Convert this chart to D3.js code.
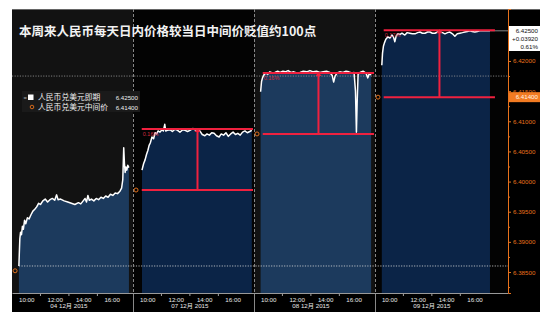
<!DOCTYPE html>
<html>
<head>
<meta charset="utf-8">
<script src="https://cdn.jsdelivr.net/npm/d3@7"></script>
<style>
  body { margin: 0; background: #fff; }
  svg { display: block; }
</style>
</head>
<body>
<script>
// categories / labels
const dayLabels = ["04 12月 2015", "07 12月 2015", "08 12月 2015", "09 12月 2015"];
const hourTicks = [10, 12, 14, 16];
const yTicks = [6.385, 6.39, 6.395, 6.40, 6.405, 6.41, 6.415, 6.42, 6.425];

// spot CNY per day  [time, value]
const spotDay1 = [["09:29",6.3860],["09:33",6.3905],["09:36",6.3916],["09:40",6.3912],["09:44",6.3926],["09:48",6.3921],["09:53",6.3936],["09:58",6.3930],["10:05",6.3940],["10:12",6.3938],["10:20",6.3945],["10:28",6.3951],["10:36",6.3954],["10:44",6.3958],["10:52",6.3964],["11:00",6.3962],["11:10",6.3968],["11:20",6.3971],["11:30",6.3966],["11:40",6.3970],["11:50",6.3972],["12:00",6.3969],["12:08",6.3978],["12:14",6.3970],["12:25",6.3971],["12:40",6.3968],["12:55",6.3966],["13:10",6.3964],["13:25",6.3962],["13:40",6.3965],["13:50",6.3963],["14:00",6.3968],["14:08",6.3972],["14:14",6.3966],["14:20",6.3977],["14:26",6.3969],["14:35",6.3971],["14:45",6.3968],["14:55",6.3972],["15:05",6.3970],["15:15",6.3974],["15:25",6.3972],["15:35",6.3976],["15:45",6.3974],["15:55",6.3979],["16:05",6.3977],["16:15",6.3981],["16:25",6.3980],["16:35",6.3984],["16:42",6.3989],["16:47",6.4003],["16:51",6.4056],["16:54",6.4030],["16:57",6.4015],["17:00",6.4024],["17:04",6.4019],["17:08",6.4027],["17:13",6.4023]];
const spotDay2 = [["09:38",6.4019],["09:45",6.4030],["09:51",6.4036],["09:57",6.4045],["10:03",6.4052],["10:08",6.4060],["10:13",6.4064],["10:20",6.4074],["10:27",6.4071],["10:33",6.4081],["10:40",6.4079],["10:46",6.4084],["10:54",6.4082],["11:02",6.4086],["11:08",6.4084],["11:14",6.4095],["11:18",6.4084],["11:25",6.4085],["11:36",6.4086],["11:46",6.4083],["11:57",6.4087],["12:08",6.4085],["12:18",6.4082],["12:30",6.4086],["12:40",6.4085],["12:50",6.4083],["13:00",6.4085],["13:12",6.4088],["13:22",6.4086],["13:32",6.4083],["13:42",6.4084],["13:52",6.4078],["14:03",6.4076],["14:12",6.4079],["14:22",6.4077],["14:32",6.4081],["14:42",6.4080],["14:52",6.4076],["15:03",6.4074],["15:12",6.4079],["15:22",6.4077],["15:32",6.4081],["15:42",6.4075],["15:52",6.4079],["16:02",6.4082],["16:12",6.4078],["16:22",6.4080],["16:32",6.4077],["16:42",6.4082],["16:52",6.4084],["17:02",6.4081],["17:12",6.4083],["17:21",6.4085]];
const spotDay3 = [["09:28",6.4149],["09:32",6.4166],["09:36",6.4172],["09:42",6.4177],["09:50",6.4180],["09:58",6.4178],["10:07",6.4182],["10:18",6.4180],["10:28",6.4181],["10:40",6.4183],["10:50",6.4181],["11:02",6.4183],["11:12",6.4182],["11:24",6.4184],["11:36",6.4181],["11:48",6.4182],["12:00",6.4180],["12:14",6.4181],["12:28",6.4183],["12:42",6.4182],["12:56",6.4184],["13:10",6.4182],["13:24",6.4183],["13:38",6.4181],["13:52",6.4182],["14:06",6.4183],["14:20",6.4181],["14:30",6.4176],["14:36",6.4165],["14:42",6.4175],["14:50",6.4180],["15:02",6.4182],["15:15",6.4181],["15:28",6.4183],["15:40",6.4182],["15:52",6.4180],["16:02",6.4181],["16:08",6.4150],["16:12",6.4082],["16:15",6.4130],["16:19",6.4178],["16:27",6.4181],["16:40",6.4183],["16:52",6.4180],["17:00",6.4172],["17:06",6.4179],["17:14",6.4177]];
const spotDay4 = [["09:29",6.4193],["09:32",6.4213],["09:36",6.4225],["09:40",6.4230],["09:46",6.4236],["09:55",6.4240],["10:03",6.4238],["10:12",6.4243],["10:18",6.4240],["10:24",6.4232],["10:30",6.4242],["10:37",6.4245],["10:46",6.4244],["10:54",6.4246],["11:06",6.4243],["11:16",6.4247],["11:27",6.4246],["11:38",6.4245],["11:49",6.4245],["12:00",6.4247],["12:10",6.4248],["12:20",6.4246],["12:31",6.4246],["12:42",6.4248],["12:52",6.4248],["13:02",6.4246],["13:13",6.4246],["13:24",6.4248],["13:34",6.4248],["13:45",6.4247],["13:55",6.4245],["14:06",6.4247],["14:16",6.4248],["14:27",6.4245],["14:37",6.4241],["14:47",6.4245],["14:58",6.4246],["15:09",6.4247],["15:19",6.4248],["15:30",6.4249],["15:40",6.4250],["15:50",6.4249],["16:01",6.4248],["16:12",6.4249],["16:22",6.4250],["16:33",6.4250],["16:44",6.4250],["16:55",6.4250],["17:05",6.4250]];
const spotDays = [spotDay1, spotDay2, spotDay3, spotDay4];

// central parity fixing and intraday high
const fixing = [6.3852, 6.3986, 6.4079, 6.4140];
const dayHigh = [null, 6.4087, 6.4180, 6.4251];
const deprLabels = [null, "0.16%", "0.16%", "0.17%"];
const refLines = [6.3860, 6.4175];

const W = 554, H = 317;
const pLeft = 12, pRight = 508, pTop = 9, pBottom = 293;
const dayHours = 8.5; // 09:00 - 17:30 per session

const svg = d3.select("body").append("svg")
  .attr("width", W).attr("height", H);

// hours since first session open
function toS(day, t) {
  const [h, m] = t.split(":").map(Number);
  return day * dayHours + (h + m / 60 - 9);
}

const x = d3.scaleLinear().domain([0, 34.85]).range([pLeft, pRight]);
const y = d3.scaleLinear().domain([6.38152, 6.42862]).range([pBottom, pTop]);

// panel
svg.append("rect").attr("x", pLeft).attr("y", pTop).attr("width", 528).attr("height", 303).attr("fill", "#000");
svg.append("line").attr("x1", pLeft).attr("x2", 540).attr("y1", pTop + 0.5).attr("y2", pTop + 0.5).attr("stroke", "#666");

// alternate day bands
dayLabels.forEach((d, i) => {
  svg.append("rect")
    .attr("x", x(i * dayHours))
    .attr("y", pTop + 1)
    .attr("width", (i == 3 ? pRight : x((i + 1) * dayHours)) - x(i * dayHours))
    .attr("height", pBottom - pTop - 1)
    .attr("fill", i % 2 == 0 ? "#121212" : "#030303");
});

// area + line per day
const fills = ["#1c3a5d", "#0b2447", "#1c3a5d", "#0b2447"];
const area = d3.area().x(d => x(d.s)).y0(pBottom).y1(d => y(d.v));
const line = d3.line().x(d => x(d.s)).y(d => y(d.v));

spotDays.forEach((arr, i) => {
  const pts = arr.map(p => ({ s: toS(i, p[0]), v: p[1] }));
  svg.append("path").datum(pts).attr("d", area).attr("fill", fills[i]);
});

// dotted reference lines
svg.append("line")
  .attr("x1", x(toS(0, "09:29"))).attr("x2", pRight)
  .attr("y1", y(refLines[0])).attr("y2", y(refLines[0]))
  .attr("stroke", "#ddd").attr("stroke-width", 0.8).attr("stroke-dasharray", "1.2,1.4");
svg.append("line")
  .attr("x1", pLeft).attr("x2", pRight)
  .attr("y1", y(refLines[1])).attr("y2", y(refLines[1]))
  .attr("stroke", "#999").attr("stroke-width", 0.8).attr("stroke-dasharray", "1.2,1.4");

spotDays.forEach((arr, i) => {
  const pts = arr.map(p => ({ s: toS(i, p[0]), v: p[1] }));
  svg.append("path").datum(pts).attr("d", line)
    .attr("fill", "none").attr("stroke", "#fff").attr("stroke-width", 1.5)
    .attr("stroke-linejoin", "round");
});

// last price line to axis
const lastS = toS(3, spotDay4[spotDay4.length - 1][0]);
svg.append("line")
  .attr("x1", x(lastS)).attr("x2", pRight)
  .attr("y1", y(6.425)).attr("y2", y(6.425))
  .attr("stroke", "#aaa").attr("stroke-width", 0.8);

// day separators
for (let i = 1; i < 4; i++) {
  const sx = Math.round(x(i * dayHours)) + 0.5;
  svg.append("line").attr("x1", sx).attr("x2", sx).attr("y1", pTop).attr("y2", pBottom)
    .attr("stroke", "#888").attr("stroke-dasharray", "3,2");
  svg.append("line").attr("x1", sx).attr("x2", sx).attr("y1", pBottom).attr("y2", 312)
    .attr("stroke", "#888");
}

// red depreciation brackets
const red = "#f0213f";
fixing.forEach((f, i) => {
  if (dayHigh[i] == null) return;
  const x1 = x(toS(i, "09:37")), x2 = x(toS(i, "17:26")), xm = x(toS(i, "13:32"));
  const g = svg.append("g").attr("stroke", red).attr("stroke-width", 2);
  g.append("line").attr("x1", x1).attr("x2", x2).attr("y1", y(dayHigh[i])).attr("y2", y(dayHigh[i]));
  g.append("line").attr("x1", x1).attr("x2", x2).attr("y1", y(f)).attr("y2", y(f));
  g.append("line").attr("x1", xm).attr("x2", xm).attr("y1", y(dayHigh[i])).attr("y2", y(f));
  svg.append("path")
    .attr("d", `M${xm - 3},${y(dayHigh[i]) + 3}L${xm},${y(dayHigh[i]) - 1}L${xm + 3},${y(dayHigh[i]) + 3}Z`)
    .attr("fill", red);
  svg.append("text").attr("x", x1 + 1).attr("y", y(dayHigh[i]) + 7)
    .attr("fill", "#d02a40").attr("font-size", 5.5).attr("font-family", "Liberation Sans, Arial")
    .text(deprLabels[i]);
});

// fixing circles
fixing.forEach((f, i) => {
  svg.append("circle").attr("cx", x(toS(i, "09:13"))).attr("cy", y(f)).attr("r", 2)
    .attr("fill", "none").attr("stroke", "#e0701c").attr("stroke-width", 1);
});

// x axis
const xTickVals = [];
dayLabels.forEach((d, i) => hourTicks.forEach(h => { xTickVals.push(i * dayHours + h - 9); }));
const xAxis = svg.append("g").attr("transform", `translate(0,${pBottom})`)
  .call(d3.axisBottom(x).tickValues(xTickVals).tickSize(0).tickPadding(5)
    .tickFormat(s => { const h = Math.round(s % dayHours + 9); return h + ":00"; }));
xAxis.select(".domain").attr("stroke", "#999");
xAxis.selectAll("text").attr("fill", "#e8e8e8").attr("font-size", 6.2).attr("font-family", "Liberation Sans, Arial");

// odd-hour ticks
const oddTicks = [];
dayLabels.forEach((d, i) => [11, 13, 15].forEach(h => oddTicks.push(i * dayHours + h - 9)));
svg.selectAll(".oddtick").data(oddTicks).enter().append("line")
  .attr("x1", d => x(d)).attr("x2", d => x(d)).attr("y1", pBottom + 1).attr("y2", pBottom + 3)
  .attr("stroke", "#ccc").attr("stroke-width", 0.8);

svg.selectAll(".daylab").data(dayLabels).enter().append("text")
  .attr("x", (d, i) => x(i * dayHours + 4)).attr("y", 308)
  .attr("text-anchor", "middle").attr("fill", "#e8e8e8")
  .attr("font-size", 6.2).attr("font-family", "Liberation Sans, Noto Sans CJK SC")
  .text(d => d);

// y axis (right, orange); top label is shown in the last-price box instead
const orange = "#e8721c";
const yAxis = svg.append("g").attr("transform", `translate(${pRight},0)`)
  .call(d3.axisRight(y).tickValues(yTicks).tickSize(3).tickPadding(2)
    .tickFormat(v => v >= 6.425 ? "" : d3.format(".5f")(v)));
yAxis.select(".domain").attr("stroke", orange);
yAxis.selectAll("line").attr("stroke", orange);
yAxis.selectAll("text").attr("fill", orange).attr("font-size", 6.2).attr("font-family", "Liberation Sans, Arial");
const minor = yTicks.slice(0, -1).map(v => v + 0.0025).concat([6.3825]);
svg.append("g").attr("transform", `translate(${pRight},0)`)
  .call(d3.axisRight(y).tickValues(minor).tickSize(2).tickFormat(""))
  .call(g => g.select(".domain").remove())
  .selectAll("line").attr("stroke", orange);

// last price box
svg.append("rect").attr("x", 509).attr("y", 26).attr("width", 31).attr("height", 25).attr("fill", "#fff");
["6.42500", "+0.03920", "0.61%"].forEach((t, i) => {
  svg.append("text").attr("x", 538).attr("y", 32.5 + i * 8)
    .attr("text-anchor", "end").attr("fill", "#111").attr("font-size", 6.2)
    .attr("font-family", "Liberation Sans, Arial").text(t);
});
// fixing box
svg.append("rect").attr("x", 509).attr("y", y(fixing[3]) - 5).attr("width", 31).attr("height", 10).attr("fill", "#f27b22");
svg.append("text").attr("x", 538).attr("y", y(fixing[3]) + 2.2)
  .attr("text-anchor", "end").attr("fill", "#fff4e8").attr("font-size", 6.2)
  .attr("font-family", "Liberation Sans, Arial").text("6.41400");

// title
svg.append("text").attr("x", 19).attr("y", 36)
  .attr("fill", "#f2f2f2").attr("font-size", 12.5).attr("font-weight", "bold")
  .attr("font-family", "Noto Sans CJK SC")
  .text("本周来人民币每天日内价格较当日中间价贬值约100点");

// legend
const lg = svg.append("g");
lg.append("rect").attr("x", 22).attr("y", 91).attr("width", 118).attr("height", 21).attr("fill", "#1a1a1a");
lg.append("text").attr("x", 23.5).attr("y", 99.5).attr("fill", "#aaa").attr("font-size", 6).text("≡");
lg.append("rect").attr("x", 28).attr("y", 94.5).attr("width", 5.5).attr("height", 5.5).attr("fill", "#fff");
lg.append("circle").attr("cx", 32).attr("cy", 107).attr("r", 1.8).attr("fill", "none").attr("stroke", orange).attr("stroke-width", 0.9);
[["人民币兑美元即期", "6.42500"], ["人民币兑美元中间价", "6.41400"]].forEach((r, i) => {
  lg.append("text").attr("x", 38).attr("y", 100 + i * 9.5).attr("fill", "#eee")
    .attr("font-size", 7.8).attr("font-family", "Noto Sans CJK SC").text(r[0]);
  lg.append("text").attr("x", 138).attr("y", 100 + i * 9.5).attr("text-anchor", "end").attr("fill", "#eee")
    .attr("font-size", 6.2).attr("font-family", "Liberation Sans, Arial").text(r[1]);
});
</script>
</body>
</html>
